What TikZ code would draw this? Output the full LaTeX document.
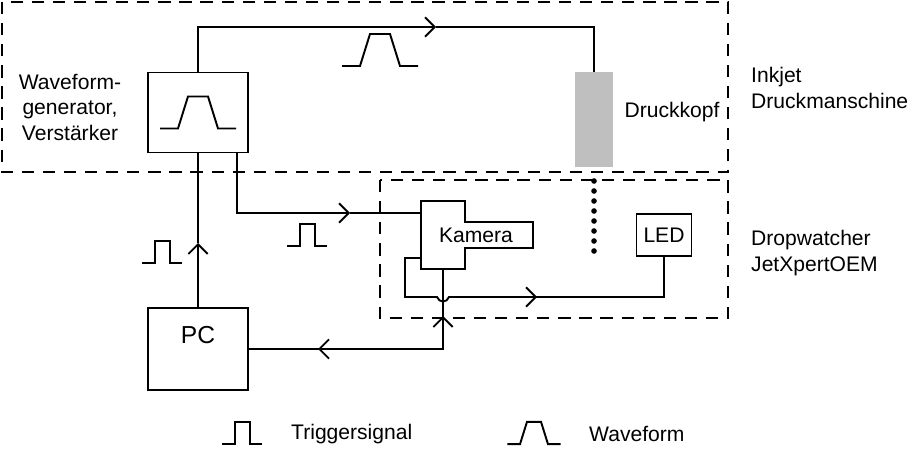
\documentclass[tikz,border=0pt]{standalone}
\usepackage{fontspec}
\setmainfont{Liberation Sans}
\usetikzlibrary{positioning, arrows.meta}

\tikzset{
  box/.style={draw, line width=1.1pt, inner sep=0pt},
  frame/.style={draw, line width=1.1pt, dash pattern=on 7pt off 5pt},
  wire/.style={line width=1.1pt},
  waveform/.pic={\draw[wire] (-38,16) -- (-20,16) -- (-10,-16) -- (10,-16) -- (20,16) -- (38,16);},
  trigger/.pic={\draw[wire] (-20,11) -- (-7,11) -- (-7,-11) -- (8,-11) -- (8,11) -- (20,11);},
}

\begin{document}
\begin{tikzpicture}[x=0.02cm, y=-0.02cm, >={Straight Barb[length=5.5pt, width=11pt]}, every node/.style={font=\fontsize{12}{14.5}\selectfont}]
    \useasboundingbox (0,0) rectangle (912,449);

    % frames
    \draw[frame] (2,2) rectangle (728,172);
    \draw[frame] (380,180) rectangle (728,318);
    \node (inkjet) [anchor=west, align=left] at (745,88) {Inkjet\\Druckmanschine};
    \node (dropw) [anchor=west, align=left] at (745,253) {Dropwatcher\\JetXpertOEM};

    % waveform generator
    \node (gen) [box, minimum width=2cm, minimum height=1.6cm] at (198,112.5) {};
    \pic at (gen.center) {waveform};
    \node (genlabel) [align=center] at (70,107) {Waveform-\\generator,\\Verstärker};

    % print head
    \node (head) [fill=gray!50, minimum width=0.76cm, minimum height=1.9cm, inner sep=0pt] at (594,119.5) {};
    \node (headlabel) at (672,112) {Druckkopf};
    \foreach \y in {181,191,...,255}
        \fill (594,\y) circle (1.6pt);

    % camera
    \draw[box] (421,201) -- (465,201) -- (465,222) -- (533,222) -- (533,248) -- (465,248) -- (465,269) -- (421,269) -- cycle;
    \node (cam) at (476,235) {Kamera};
    \coordinate (camin) at (421,213);
    \coordinate (camled) at (421,258);
    \coordinate (camout) at (443,269);

    % LED and PC
    \node (led) [box, minimum width=1.1cm, minimum height=0.84cm] at (664,235) {LED};
    \node (pc) [box, minimum width=2cm, minimum height=1.64cm] at (198,349) {};
    \node (pclabel) [font=\fontsize{14}{17}\selectfont] at (198,335) {PC};

    % generator -> print head
    \coordinate (a1) at (436,27);
    \draw[wire, ->] (gen.north) |- (a1);
    \draw[wire] (a1) -| (head.north);
    \pic at (380,50) {waveform};

    % generator -> camera
    \coordinate (genout) at (237,152.5);
    \coordinate (a2) at (350,213);
    \draw[wire, ->] (genout) |- (a2);
    \draw[wire] (a2) -- (camin);
    \pic at (307,235) {trigger};

    % PC -> generator
    \coordinate (a3) at (198,243);
    \draw[wire, ->] (pc.north) -- (a3);
    \draw[wire] (a3) -- (gen.south);
    \pic at (162,252) {trigger};

    % camera -- PC
    \coordinate (corner) at (443,349);
    \coordinate (a4) at (443,316);
    \coordinate (a5) at (318,349);
    \draw[wire] (camout) |- (pc.east);
    \draw[wire, ->] (corner) -- (a4);
    \draw[wire, ->] (corner) -- (a5);

    % camera -> LED
    \coordinate (ledbend) at (405,297);
    \coordinate (hopin) at (437,297);
    \coordinate (hopout) at (449,297);
    \coordinate (a6) at (537,297);
    \draw[wire] (camled) -| (ledbend) -- (hopin) .. controls (439,303) and (447,303) .. (hopout) -- (a6);
    \draw[wire, ->] (hopout) -- (a6);
    \draw[wire] (a6) -| (led.south);

    % legend
    \pic at (242,433) {trigger};
    \node (legtrig) [anchor=west] at (285,434) {Triggersignal};
    \pic[scale=0.7] at (534,433) {waveform};
    \node (legwave) [anchor=west] at (583,434) {Waveform};
\end{tikzpicture}
\end{document}
